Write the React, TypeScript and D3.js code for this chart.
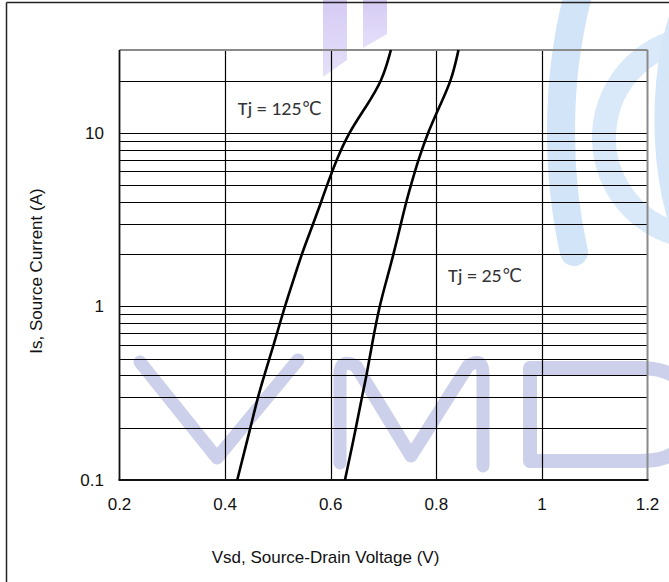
import React from "react";
import * as d3 from "d3";

// ---- chart data ----
const VOLT_TICKS = [0.2, 0.4, 0.6, 0.8, 1.0, 1.2];
const VOLT_TICK_LABELS = ["0.2", "0.4", "0.6", "0.8", "1", "1.2"];
const CURRENT_TICKS = [0.1, 1, 10];
const CURRENT_TICK_LABELS = ["0.1", "1", "10"];
const CURRENT_GRID = [0.2, 0.3, 0.4, 0.5, 0.6, 0.7, 0.8, 0.9, 1, 2, 3, 4, 5, 6, 7, 8, 9, 10, 20];

const CURRENT_POINTS = [0.1, 0.2, 0.3, 0.4, 0.6, 1, 1.5, 2, 3, 4, 5, 7, 10, 14, 20, 30];
const VSD_TJ125 = [0.423, 0.448, 0.462, 0.474, 0.492, 0.513, 0.532, 0.545, 0.567, 0.582, 0.593, 0.611, 0.634, 0.666, 0.698, 0.714];
const VSD_TJ25 = [0.627, 0.648, 0.659, 0.668, 0.678, 0.692, 0.708, 0.719, 0.733, 0.743, 0.752, 0.766, 0.784, 0.805, 0.829, 0.842];

const SERIES_LABELS = ["Tj = 125℃", "Tj = 25℃"];
const LABEL_VOLTS = [0.424, 0.822];
const LABEL_CURRENTS = [12.7, 1.38];

const X_TITLE = "Vsd, Source-Drain Voltage (V)";
const Y_TITLE = "Is, Source Current (A)";

// ---- layout ----
const W = 669;
const H = 582;
const PL = 119.5;
const PR = 647.5;
const PT = 50;
const PB = 480;

const AXIS_FONT = "'Liberation Sans', Arial, Helvetica, sans-serif";
const LABEL_FONT = "Carlito, 'Liberation Sans Narrow', 'DejaVu Sans Condensed', 'Open Sans', sans-serif";

function Watermark() {
  const wm = "#ccd0eb";
  return (
    <g>
      <defs>
        <linearGradient id="purpleFade" x1="0" y1="0" x2="0" y2="1">
          <stop offset="0%" stopColor="#d5cbf4" />
          <stop offset="100%" stopColor="#e6e0fa" />
        </linearGradient>
      </defs>
      {/* top purple bars */}
      <path d="M323,0 H347 V60 L323,77 Z" fill="url(#purpleFade)" />
      <path d="M363,0 H387 V34 L363,48 Z" fill="url(#purpleFade)" />
      {/* blue arcs on the right */}
      <path d="M578,-5 A155,300 0 0 0 574,252" fill="none" stroke="#d2e4f8" strokeWidth={28} strokeLinecap="round" />
      <path d="M712,38 A100,100 0 0 0 681,235" fill="none" stroke="#d9e9fa" strokeWidth={24} strokeLinecap="round" />
      <path d="M690,-5 A55,150 0 0 0 690,245" fill="none" stroke="#d5e6f9" strokeWidth={22} strokeLinecap="round" />
      {/* V */}
      <path d="M140,362 L217,458 L298,360" fill="none" stroke={wm} strokeWidth={13} strokeLinecap="round" strokeLinejoin="round" />
      {/* M */}
      <path
        d="M340,463 V374 Q340,358 356,366 L411,456 L468,366 Q483,356 483,374 V466"
        fill="none"
        stroke={wm}
        strokeWidth={13}
        strokeLinecap="round"
        strokeLinejoin="round"
      />
      {/* D */}
      <path
        d="M530,461 V368 H640 Q692,368 692,415 Q692,461 640,461 Z"
        fill="none"
        stroke={wm}
        strokeWidth={14}
        strokeLinejoin="round"
      />
    </g>
  );
}

export default function App() {
  const x = d3.scaleLinear().domain([0.2, 1.2]).range([PL, PR]);
  const y = d3.scaleLog().domain([0.1, 30]).range([PB, PT]);

  const line = d3
    .line<[number, number]>()
    .x((d) => x(d[0]))
    .y((d) => y(d[1]))
    .curve(d3.curveBasis);

  const s125: [number, number][] = CURRENT_POINTS.map((c, i) => [VSD_TJ125[i], c]);
  const s25: [number, number][] = CURRENT_POINTS.map((c, i) => [VSD_TJ25[i], c]);

  return (
    <svg
      width={W}
      height={H}
      viewBox={`0 0 ${W} ${H}`}
      style={{ position: "absolute", left: 0, top: 0, display: "block", background: "#ffffff" }}
    >
      <rect x={0} y={0} width={W} height={H} fill="#ffffff" />
      <Watermark />

      {/* outer frame */}
      <line x1={6.5} y1={2.5} x2={W} y2={2.5} stroke="#222" strokeWidth={1.5} />
      <line x1={6.5} y1={2.5} x2={6.5} y2={H} stroke="#222" strokeWidth={1.5} />

      {/* grid */}
      <g stroke="#000" strokeWidth={1.2}>
        {CURRENT_GRID.map((c) => (
          <line key={"h" + c} x1={PL} x2={PR} y1={Math.round(y(c)) + 0.5} y2={Math.round(y(c)) + 0.5} />
        ))}
        {VOLT_TICKS.slice(1, -1).map((v) => (
          <line key={"v" + v} x1={Math.round(x(v)) + 0.5} x2={Math.round(x(v)) + 0.5} y1={PT} y2={PB} />
        ))}
      </g>

      {/* plot border */}
      <line x1={PL} y1={PT} x2={PR} y2={PT} stroke="#8a8a8a" strokeWidth={2} />
      <line x1={PR} y1={PT} x2={PR} y2={PB} stroke="#8a8a8a" strokeWidth={2} />
      <line x1={PL} y1={PT} x2={PL} y2={PB} stroke="#111" strokeWidth={1.8} />
      <line x1={PL - 1} y1={PB} x2={PR + 1} y2={PB} stroke="#111" strokeWidth={2.2} />

      {/* curves */}
      <path d={line(s125) as string} fill="none" stroke="#000" strokeWidth={2.6} />
      <path d={line(s25) as string} fill="none" stroke="#000" strokeWidth={2.6} />

      {/* series labels */}
      {SERIES_LABELS.map((t, i) => (
        <text
          key={t}
          x={x(LABEL_VOLTS[i])}
          y={y(LABEL_CURRENTS[i])}
          fontFamily={LABEL_FONT}
          fontSize={19}
          fill="#333"
          textLength={i === 0 ? 84 : 74}
          lengthAdjust="spacingAndGlyphs"
        >
          {t}
        </text>
      ))}

      {/* x tick labels */}
      {VOLT_TICKS.map((v, i) => (
        <text key={"xt" + v} x={x(v)} y={510} textAnchor="middle" fontFamily={AXIS_FONT} fontSize={17} fill="#111">
          {VOLT_TICK_LABELS[i]}
        </text>
      ))}

      {/* y tick labels */}
      {CURRENT_TICKS.map((c, i) => (
        <text key={"yt" + c} x={104} y={y(c) + 6} textAnchor="end" fontFamily={AXIS_FONT} fontSize={17} fill="#111">
          {CURRENT_TICK_LABELS[i]}
        </text>
      ))}

      {/* axis titles */}
      <text x={(PL + PR) / 2 - 58} y={563} textAnchor="middle" fontFamily={AXIS_FONT} fontSize={17} fill="#111">
        {X_TITLE}
      </text>
      <text
        transform={`translate(42, ${(PT + PB) / 2 + 6}) rotate(-90)`}
        textAnchor="middle"
        fontFamily={AXIS_FONT}
        fontSize={17}
        fill="#111"
      >
        {Y_TITLE}
      </text>
    </svg>
  );
}
